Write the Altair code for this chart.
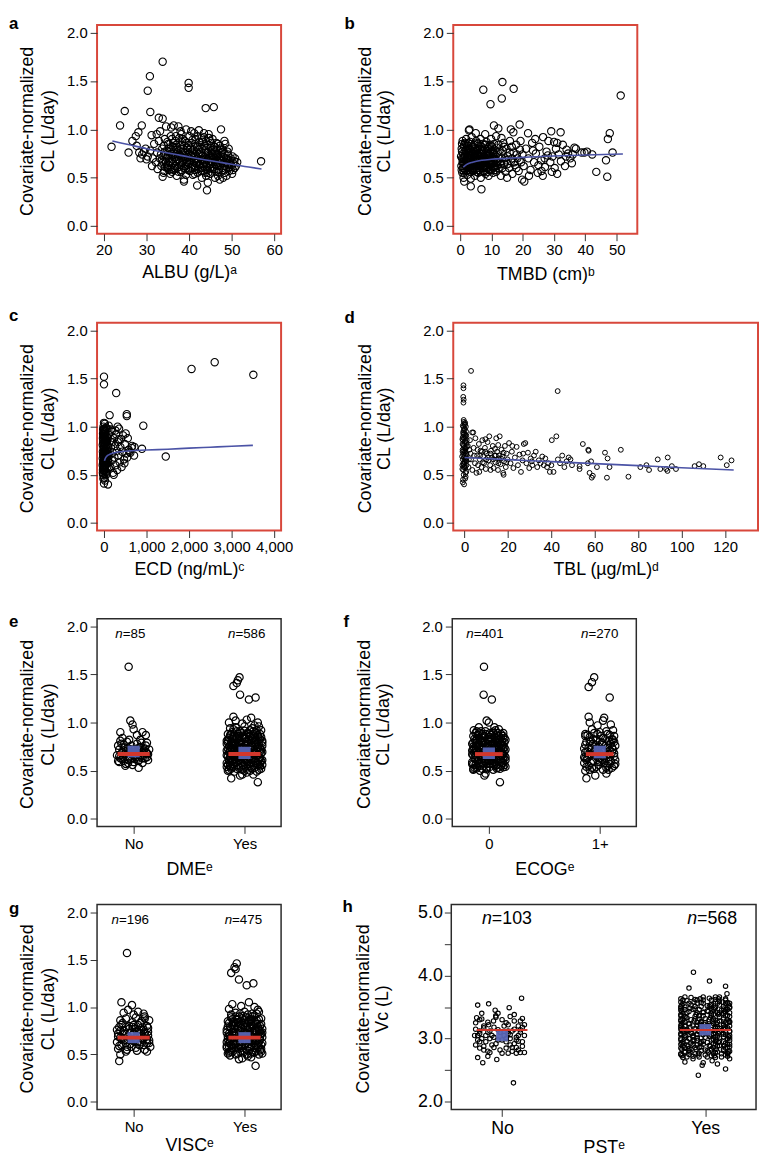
import altair as alt
import pandas as pd

FONT = "Liberation Sans"
RED_FRAME = "#D8473B"
BLACK_FRAME = "#2b2b2b"
TICK = "#333333"
FIT_BLUE = "#4B53A6"
BOX_BLUE = "#5865B4"
MED_RED = "#D2372C"

CL_DOMAIN = [-0.08, 2.08]
CL_TICKS = [0.0, 0.5, 1.0, 1.5, 2.0]
VC_DOMAIN = [1.88, 5.12]
VC_TICKS = [2.0, 2.5, 3.0, 3.5, 4.0, 4.5, 5.0]

PANEL_LETTERS = ["a", "b", "c", "d", "e", "f", "g", "h"]
Y_TITLE_CL = ["Covariate-normalized", "CL (L/day)"]
Y_TITLE_VC = ["Covariate-normalized", "Vᴄ (L)"]
X_TITLES = ["ALBU (g/L)ᵃ", "TMBD (cm)ᵇ", "ECD (ng/mL)ᶜ", "TBL (µg/mL)ᵈ",
            "DMEᵉ", "ECOGᵉ", "VISCᵉ", "PSTᵉ"]

# ---------------- panel a : ALBU ----------------
ALBU_PTS = [
    (21.8, 0.82), (23.8, 1.04), (24.9, 1.19), (25.8, 0.76), (26.7, 0.88), (27.5, 0.93), (28.1, 0.97),
    (28.9, 1.04), (27.7, 0.83), (28.3, 0.76), (29.0, 0.74), (29.8, 0.80), (30.3, 1.40), (30.8, 1.55),
    (30.9, 1.18), (33.8, 1.70), (32.9, 1.12), (33.8, 1.11), (39.9, 1.48), (39.9, 1.43), (43.9, 1.22),
    (45.8, 1.23), (47.5, 1.00), (56.9, 0.67), (41.9, 0.42), (44.2, 0.37), (44.4, 0.45), (33.8, 0.51),
    (38.8, 0.46), (38.8, 0.48), (28.6, 0.70), (29.4, 0.77), (30.0, 0.69),
    (31.2, 0.94), (32.4, 0.95), (33.2, 0.98), (34.6, 1.03), (35.8, 1.02), (36.4, 1.04), (37.5, 1.03),
    (38.2, 0.95), (39.3, 1.00), (40.5, 0.98), (41.2, 0.96), (42.3, 0.99), (43.5, 0.96), (44.6, 0.95),
    (45.5, 0.90), (46.4, 0.86), (47.2, 0.83), (48.3, 0.88), (48.5, 0.85), (49.3, 0.80), (50.2, 0.72),
    (50.8, 0.70), (51.3, 0.66),
    (30.3, 0.72), (30.9, 0.78), (31.5, 0.70), (31.3, 0.62), (31.8, 0.85), (32.2, 0.66), (32.5, 0.76),
    (32.6, 0.59), (32.9, 0.88), (33.1, 0.70),
    (33.5, 0.62), (33.7, 0.80), (34.0, 0.72), (34.2, 0.57), (34.3, 0.90), (34.6, 0.66), (34.8, 0.78),
    (35.0, 0.60), (35.1, 0.85), (35.3, 0.70), (35.6, 0.54), (35.7, 0.93), (35.9, 0.75), (36.1, 0.64),
    (36.2, 0.82), (36.4, 0.58), (36.6, 0.71), (36.8, 0.88), (37.0, 0.67), (37.1, 0.52), (37.3, 0.79),
    (37.5, 0.61), (37.7, 0.91), (37.9, 0.73), (38.1, 0.56), (38.2, 0.84), (38.4, 0.66), (38.6, 0.77),
    (38.8, 0.60), (39.0, 0.88), (39.1, 0.70), (39.3, 0.53), (39.5, 0.81), (39.7, 0.63), (39.9, 0.75),
    (40.1, 0.93), (40.2, 0.57), (40.4, 0.68), (40.6, 0.86), (40.8, 0.61), (41.0, 0.79), (41.1, 0.72),
    (41.3, 0.54), (41.5, 0.90), (41.7, 0.65), (41.9, 0.82), (42.1, 0.59), (42.2, 0.74), (42.4, 0.87),
    (42.6, 0.63), (42.8, 0.69), (43.0, 0.50), (43.1, 0.80), (43.3, 0.57), (43.5, 0.92), (43.7, 0.66),
    (43.9, 0.76), (44.1, 0.61), (44.3, 0.84), (44.5, 0.55), (44.7, 0.71), (44.9, 0.88), (45.1, 0.64),
    (45.3, 0.78), (45.5, 0.59), (45.7, 0.69), (45.9, 0.82), (46.1, 0.50), (46.3, 0.74), (46.5, 0.62),
    (46.7, 0.79), (46.9, 0.56), (47.0, 0.70), (47.2, 0.48), (47.4, 0.65), (47.6, 0.76), (47.8, 0.60),
    (48.0, 0.50), (48.2, 0.71), (48.4, 0.55), (48.6, 0.66), (48.9, 0.61), (49.1, 0.74), (49.4, 0.57),
    (49.6, 0.68), (49.9, 0.63), (50.1, 0.54), (50.4, 0.65), (50.7, 0.60), (51.0, 0.62),
    (34.5, 0.74), (35.4, 0.66), (36.9, 0.74), (37.6, 0.69), (38.5, 0.71), (39.6, 0.68), (40.7, 0.72),
    (41.6, 0.69), (42.7, 0.77), (43.6, 0.71), (44.6, 0.67), (45.6, 0.73), (46.6, 0.68), (47.5, 0.72),
    (36.3, 0.86), (38.9, 0.83), (41.4, 0.85), (43.2, 0.87), (45.0, 0.81), (37.2, 0.60), (39.8, 0.58),
    (42.0, 0.55), (44.0, 0.52), (46.0, 0.59),
    (33.4, 0.74), (33.9, 0.66), (34.1, 0.83), (34.4, 0.61), (34.7, 0.70), (34.9, 0.87), (35.2, 0.63),
    (35.5, 0.77), (35.8, 0.59), (36.0, 0.69), (36.5, 0.79), (36.7, 0.62), (37.0, 0.84), (37.4, 0.72),
    (37.8, 0.65), (38.0, 0.80), (38.3, 0.58), (38.7, 0.68), (39.0, 0.76), (39.2, 0.62), (39.4, 0.86),
    (39.8, 0.71), (40.0, 0.64), (40.3, 0.80), (40.5, 0.60), (40.9, 0.75), (41.2, 0.67), (41.4, 0.58),
    (41.8, 0.77), (42.0, 0.70), (42.3, 0.64), (42.5, 0.82), (42.9, 0.60), (43.2, 0.73), (43.4, 0.65),
    (43.8, 0.79), (44.0, 0.70), (44.2, 0.58), (44.4, 0.76), (44.8, 0.63), (45.0, 0.72), (45.2, 0.86),
    (45.4, 0.66), (45.8, 0.61), (46.0, 0.77), (46.2, 0.70), (46.4, 0.56), (46.8, 0.73), (47.1, 0.62),
    (47.3, 0.80), (47.7, 0.67), (48.1, 0.58), (48.3, 0.75), (48.7, 0.70), (49.0, 0.65), (49.3, 0.60),
    (49.8, 0.70), (50.3, 0.58), (50.6, 0.67), (35.0, 0.72), (36.0, 0.56), (37.2, 0.76), (38.3, 0.74),
    (39.4, 0.66), (40.4, 0.73), (41.3, 0.62), (42.2, 0.68), (43.3, 0.62), (44.3, 0.69), (45.4, 0.75),
    (46.3, 0.64), (47.3, 0.69), (48.4, 0.62), (36.9, 0.93), (38.5, 0.90), (40.8, 0.89), (42.9, 0.91),
    (44.7, 0.91), (46.8, 0.85), (34.0, 0.55), (45.0, 0.54), (48.8, 0.52),
]
ALBU_CORE = [
    (33.6, 0.68), (34.3, 0.77), (34.8, 0.62), (35.3, 0.81), (35.7, 0.67), (36.2, 0.73), (36.6, 0.60),
    (37.1, 0.82), (37.6, 0.74), (38.0, 0.63), (38.4, 0.87), (38.9, 0.72), (39.3, 0.59), (39.7, 0.79),
    (40.1, 0.67), (40.6, 0.77), (41.0, 0.63), (41.5, 0.74), (41.9, 0.66), (42.4, 0.79), (42.8, 0.57),
    (43.1, 0.68), (43.6, 0.83), (44.0, 0.64), (44.5, 0.74), (44.9, 0.60), (45.3, 0.70), (45.7, 0.79),
    (46.2, 0.66), (46.6, 0.74), (47.0, 0.58), (47.5, 0.68), (47.9, 0.77), (48.3, 0.65), (48.9, 0.69),
    (49.5, 0.64), (50.0, 0.61), (36.0, 0.90), (38.0, 0.98), (40.0, 0.84), (42.0, 0.93), (44.0, 0.88),
    (46.0, 0.82), (48.0, 0.79), (37.5, 0.56), (40.9, 0.53), (43.8, 0.55), (46.8, 0.52), (35.2, 0.58),
    (49.0, 0.77),
]
ALBU_FIT_X = [22, 26, 30, 35, 40, 45, 50, 54, 57]
ALBU_FIT_Y = [0.88, 0.84, 0.80, 0.755, 0.715, 0.675, 0.64, 0.61, 0.59]

# ---------------- panel b : TMBD ----------------
TMBD_PTS = [
    (7.4, 1.41), (9.7, 1.26), (13.5, 1.49), (13.3, 1.32), (17.1, 1.42), (51.3, 1.35), (47.8, 0.96),
    (47.2, 0.90), (48.7, 0.76), (46.6, 0.68), (47.0, 0.51), (43.5, 0.56), (42.2, 0.74), (39.7, 0.76),
    (38.8, 0.76), (40.5, 0.77), (36.5, 0.81), (37.0, 0.80), (35.7, 0.65), (34.5, 0.75), (33.8, 0.72),
    (32.1, 0.97), (29.1, 0.98), (29.3, 0.56), (31.0, 0.54), (31.0, 0.86), (19.0, 1.05), (10.8, 1.04),
    (12.2, 1.01), (3.0, 1.00), (2.8, 0.99), (6.8, 0.38), (3.4, 0.41), (1.3, 0.46), (19.8, 0.48),
    (20.5, 0.46), (26.4, 0.52), (16.2, 1.00), (21.7, 0.96), (8.0, 0.95), (5.0, 0.96), (11.5, 0.93),
    (17.0, 0.97),
    (20.3, 0.62), (21.0, 0.80), (21.8, 0.70), (22.5, 0.58), (23.0, 0.86), (23.6, 0.66), (24.2, 0.75),
    (24.8, 0.55), (25.3, 0.82), (25.9, 0.68), (26.5, 0.92), (27.1, 0.61), (27.6, 0.77), (28.2, 0.88),
    (28.8, 0.66), (29.5, 0.72), (30.2, 0.60), (30.6, 0.80), (31.5, 0.74), (32.2, 0.67), (32.8, 0.84),
    (33.5, 0.62), (34.0, 0.79), (35.2, 0.70), (36.0, 0.74), (22.0, 0.52), (24.0, 0.90), (26.0, 0.57),
    (28.0, 0.73), (30.0, 0.87), (27.0, 0.70), (25.0, 0.63), (23.3, 0.78),
    (12.3, 0.60), (12.6, 0.78), (13.0, 0.52), (13.4, 0.70), (13.8, 0.86), (14.1, 0.64), (14.5, 0.56),
    (14.8, 0.80), (15.2, 0.72), (15.6, 0.60), (15.9, 0.88), (16.3, 0.67), (16.7, 0.54), (17.1, 0.76),
    (17.5, 0.63), (17.9, 0.84), (18.3, 0.70), (18.7, 0.57), (19.1, 0.79), (19.5, 0.66), (19.9, 0.74),
    (13.2, 0.91), (15.0, 0.50), (16.5, 0.82), (18.0, 0.60), (19.3, 0.88),
    (0.4, 0.62), (0.5, 0.80), (0.6, 0.70), (0.7, 0.55), (0.8, 0.88), (0.9, 0.66), (1.0, 0.75),
    (1.1, 0.50), (1.2, 0.60), (1.3, 0.84), (1.5, 0.72), (1.6, 0.58), (1.8, 0.68), (1.9, 0.90),
    (2.0, 0.78), (2.2, 0.63), (2.3, 0.53), (2.5, 0.74), (2.6, 0.86), (2.8, 0.66), (2.9, 0.58),
    (3.1, 0.80), (3.3, 0.70), (3.4, 0.49), (3.6, 0.62), (3.7, 0.92), (3.9, 0.76), (4.1, 0.57),
    (4.2, 0.68), (4.4, 0.84), (4.6, 0.64), (4.7, 0.52), (4.9, 0.73), (5.1, 0.88), (5.3, 0.60),
    (5.4, 0.79), (5.6, 0.67), (5.8, 0.55), (5.9, 0.83), (6.1, 0.71), (6.3, 0.62), (6.5, 0.90),
    (6.6, 0.50), (6.8, 0.76), (7.0, 0.65), (7.2, 0.85), (7.3, 0.57), (7.5, 0.72), (7.7, 0.62),
    (7.9, 0.80), (8.1, 0.54), (8.2, 0.69), (8.4, 0.87), (8.6, 0.60), (8.8, 0.75), (9.0, 0.66),
    (9.1, 0.52), (9.3, 0.82), (9.5, 0.71), (9.7, 0.58), (9.9, 0.90), (10.1, 0.64), (10.3, 0.77),
    (10.5, 0.55), (10.7, 0.70), (10.9, 0.85), (11.1, 0.61), (11.3, 0.73), (11.5, 0.56), (11.7, 0.81),
    (11.9, 0.67),
    (1.4, 0.65), (2.1, 0.70), (2.7, 0.61), (3.2, 0.74), (3.8, 0.66), (4.5, 0.71), (5.2, 0.64),
    (5.7, 0.74), (6.4, 0.68), (7.1, 0.69), (7.8, 0.72), (8.5, 0.65), (9.2, 0.73), (10.0, 0.70),
    (10.8, 0.62), (0.3, 0.72), (1.7, 0.78), (4.0, 0.60), (6.0, 0.58), (8.9, 0.78),
    (0.5, 0.58), (0.6, 0.85), (0.8, 0.66), (1.0, 0.70), (1.2, 0.82), (1.3, 0.55), (1.6, 0.74),
    (1.8, 0.62), (2.0, 0.85), (2.2, 0.67), (2.4, 0.58), (2.6, 0.77), (2.9, 0.70), (3.0, 0.62),
    (3.2, 0.87), (3.4, 0.66), (3.6, 0.72), (3.9, 0.58), (4.0, 0.82), (4.3, 0.74), (4.5, 0.60),
    (4.8, 0.68), (5.0, 0.78), (5.2, 0.56), (5.5, 0.70), (5.7, 0.85), (6.0, 0.64), (6.2, 0.76),
    (6.4, 0.56), (6.7, 0.72), (6.9, 0.82), (7.1, 0.60), (7.4, 0.68), (7.6, 0.78), (7.9, 0.66),
    (8.1, 0.84), (8.3, 0.60), (8.6, 0.72), (8.8, 0.56), (9.0, 0.80), (9.3, 0.64), (9.5, 0.76),
    (9.8, 0.68), (10.0, 0.58), (10.2, 0.82), (10.5, 0.66), (10.7, 0.76), (11.0, 0.70), (11.2, 0.58),
    (11.6, 0.66), (12.0, 0.76), (12.5, 0.70), (13.0, 0.64), (13.6, 0.78), (14.3, 0.70), (15.1, 0.64),
    (15.8, 0.76), (16.6, 0.70), (17.3, 0.66), (18.1, 0.74), (19.0, 0.68), (1.1, 0.64), (2.4, 0.80),
    (3.5, 0.78), (4.7, 0.80), (5.9, 0.66), (7.0, 0.74), (8.0, 0.62), (9.4, 0.70), (10.6, 0.74),
]
TMBD_CORE = [
    (0.6, 0.77), (0.9, 0.60), (1.2, 0.71), (1.5, 0.86), (1.7, 0.64), (2.1, 0.57), (2.3, 0.72),
    (2.5, 0.83), (2.8, 0.62), (3.0, 0.76), (3.3, 0.56), (3.5, 0.68), (3.8, 0.82), (4.1, 0.65),
    (4.3, 0.78), (4.6, 0.58), (4.9, 0.70), (5.1, 0.62), (5.4, 0.75), (5.6, 0.86), (5.9, 0.60),
    (6.2, 0.70), (6.5, 0.80), (6.7, 0.63), (7.0, 0.78), (7.3, 0.66), (7.6, 0.56), (7.8, 0.84),
    (8.1, 0.70), (8.4, 0.62), (8.7, 0.80), (9.0, 0.72), (9.3, 0.58), (9.6, 0.84), (9.9, 0.65),
    (10.3, 0.70), (10.6, 0.60), (11.0, 0.79), (11.4, 0.68), (11.8, 0.62), (12.2, 0.84), (12.8, 0.66),
    (13.5, 0.60), (14.0, 0.82), (14.7, 0.68),
]
TMBD_FIT_X = [1, 2, 4, 7, 10, 15, 20, 30, 40, 52]
TMBD_FIT_Y = [0.61, 0.635, 0.66, 0.68, 0.69, 0.70, 0.71, 0.725, 0.735, 0.745]

# ---------------- panel c : ECD ----------------
ECD_PTS = [
    (2058, 1.60), (2602, 1.67), (3511, 1.54), (1452, 0.69), (924, 1.01), (893, 0.77), (707, 0.70),
    (715, 0.79), (0, 1.52), (0, 1.44), (287, 1.35), (132, 1.12), (536, 1.13), (536, 1.11), (0, 0.41),
    (93, 0.40),
    (-20, 0.50), (-10, 0.56), (0, 0.62), (10, 0.68), (-25, 0.74), (5, 0.80), (-15, 0.86), (15, 0.92),
    (-5, 0.98), (20, 1.03), (-30, 0.60), (25, 0.55), (-8, 0.70), (30, 0.76), (-18, 0.83), (8, 0.89),
    (35, 0.95), (-12, 1.00), (40, 0.65), (-3, 0.58), (45, 0.72), (12, 0.78), (-22, 0.93), (50, 0.85),
    (2, 0.47), (55, 0.62), (-28, 0.67), (60, 0.90), (18, 0.73), (65, 0.52), (-6, 0.84), (70, 0.69),
    (28, 0.96), (75, 0.58), (-16, 0.64), (80, 0.81), (38, 0.53), (85, 0.75), (0, 1.04), (90, 0.88),
    (48, 0.60), (95, 0.66), (22, 0.44), (100, 0.79), (58, 0.71), (105, 0.92), (-10, 0.77), (110, 0.57),
    (68, 0.84), (-24, 0.55), (32, 0.64), (78, 0.98), (-4, 0.91), (42, 0.87), (88, 0.70), (14, 0.60),
    (52, 0.50), (-20, 0.97), (62, 0.77), (98, 0.63), (6, 0.72), (-14, 0.69), (26, 0.82), (72, 0.62),
    (3, 0.96), (46, 0.99),
    (-26, 0.52), (-12, 0.58), (4, 0.54), (16, 0.66), (-20, 0.71), (8, 0.75), (-6, 0.79), (22, 0.85),
    (-16, 0.90), (4, 0.94), (-28, 0.81), (36, 0.70), (-2, 0.65), (12, 0.87), (-22, 0.62), (28, 0.59),
    (18, 0.98), (-8, 0.94), (44, 0.79), (54, 0.67), (64, 0.86), (74, 0.74), (84, 0.64), (94, 0.71),
    (-14, 0.46), (10, 0.51), (34, 0.89), (-24, 0.88), (0, 0.75), (20, 0.69),
    (125, 0.70), (140, 0.85), (150, 0.58), (165, 0.78), (180, 0.95), (190, 0.65), (205, 0.73),
    (215, 0.52), (230, 0.88), (245, 0.68), (260, 0.80), (270, 0.60), (285, 0.92), (300, 0.75),
    (310, 0.55), (325, 0.84), (340, 0.70), (355, 0.98), (370, 0.63), (385, 0.79), (400, 0.87),
    (415, 0.58), (430, 0.74), (450, 0.91), (470, 0.66), (490, 0.82), (510, 0.93), (530, 0.72),
    (545, 0.68), (560, 0.88), (580, 0.76), (600, 0.74), (230, 0.50), (160, 0.97), (320, 1.00),
    (110, 1.01), (270, 0.96), (480, 0.62), (620, 0.73), (650, 0.78), (660, 0.80), (200, 0.84),
    (350, 0.87),
]
ECD_FIT_X = [10, 30, 60, 120, 250, 500, 1000, 1500, 2000, 2500, 3000, 3500]
ECD_FIT_Y = [0.645, 0.67, 0.69, 0.71, 0.73, 0.745, 0.757, 0.766, 0.777, 0.787, 0.797, 0.806]

# ---------------- panel d : TBL ----------------
TBL_PTS = [
    (-0.8, 0.42), (0.3, 0.46), (-0.4, 0.50), (0.8, 0.53), (-1.0, 0.56), (0.1, 0.59), (-0.6, 0.62),
    (0.6, 0.65), (-0.2, 0.68), (1.0, 0.71), (-0.9, 0.74), (0.4, 0.77), (-0.3, 0.80), (0.9, 0.83),
    (-0.7, 0.86), (0.2, 0.89), (-0.5, 0.92), (0.7, 0.95), (-0.1, 0.98), (-0.8, 1.01), (0.3, 1.04),
    (-0.4, 1.07), (0.5, 0.48), (-0.6, 0.55), (0.0, 0.63), (-1.1, 0.69), (0.6, 0.72), (-0.2, 0.75),
    (1.1, 0.79), (-0.9, 0.82), (0.4, 0.85), (-0.3, 0.88), (0.8, 0.91), (-0.7, 0.94), (0.1, 0.97),
    (-0.5, 1.00), (0.9, 0.60), (-0.8, 0.66), (0.2, 0.70), (-0.1, 0.73), (0.6, 0.78), (-0.6, 0.81),
    (0.0, 0.84), (-1.0, 0.87), (0.5, 0.90), (-0.2, 0.93), (0.3, 0.57), (-0.4, 0.61), (0.7, 0.67),
    (-0.9, 0.76), (-0.5, 1.43), (-0.5, 1.40), (-0.6, 1.31), (-0.4, 1.28), (-0.5, 1.25), (-0.3, 1.05),
    (0.2, 1.02), (-0.2, 0.40),
    (-0.7, 0.45), (0.4, 0.52), (-0.3, 0.58), (0.8, 0.64), (-1.0, 0.60), (0.1, 0.66), (-0.6, 0.71),
    (0.5, 0.74), (-0.2, 0.78), (1.0, 0.86), (-0.8, 0.89), (0.3, 0.92), (-0.4, 0.96), (0.6, 1.00),
    (-0.1, 1.03),
    (3.0, 1.58), (3.5, 0.94), (4.0, 0.94), (1.5, 0.80), (2.0, 0.66), (2.5, 0.86), (1.8, 0.58),
    (2.8, 0.72), (3.6, 0.55), (4.2, 0.78), (4.8, 0.62), (5.0, 0.88), (5.5, 0.52),
    (5.8, 0.70), (6.2, 0.60), (6.6, 0.82), (7.0, 0.66), (7.4, 0.75), (7.8, 0.58), (8.2, 0.86),
    (8.6, 0.69), (9.0, 0.62), (9.4, 0.78), (9.8, 0.56), (10.2, 0.72), (10.6, 0.84), (11.0, 0.65),
    (11.4, 0.90), (11.8, 0.60), (12.2, 0.75), (12.6, 0.68), (13.0, 0.80), (13.4, 0.57), (13.8, 0.70),
    (14.2, 0.63), (14.6, 0.88), (15.0, 0.74), (15.4, 0.55), (15.8, 0.67), (16.2, 0.90), (16.6, 0.61),
    (17.0, 0.76), (17.4, 0.69), (17.8, 0.52), (18.2, 0.64), (18.6, 0.80), (19.0, 0.58), (19.4, 0.72),
    (19.8, 0.66), (8.0, 0.74), (12.0, 0.55), (15.5, 0.81), (10.0, 0.66), (6.8, 0.53), (14.0, 0.77),
    (18.0, 0.50), (16.0, 0.70), (9.6, 0.87),
    (6.0, 0.76), (7.2, 0.70), (8.4, 0.63), (9.6, 0.74), (10.8, 0.68), (12.0, 0.72), (13.2, 0.66),
    (14.4, 0.70), (15.6, 0.62), (16.8, 0.67), (18.0, 0.73), (19.2, 0.63), (3.0, 0.66), (4.4, 0.70),
    (2.2, 0.76),
    (20.5, 0.83), (21.2, 0.62), (21.8, 0.74), (22.5, 0.57), (23.2, 0.68), (24.0, 0.79), (24.6, 0.60),
    (25.3, 0.71), (26.0, 0.53), (26.7, 0.65), (27.3, 0.82), (28.0, 0.83), (28.5, 0.62), (29.2, 0.73),
    (29.8, 0.57), (30.5, 0.67), (31.2, 0.60), (32.0, 0.70), (32.8, 0.74), (33.5, 0.58), (34.2, 0.65),
    (35.0, 0.62), (35.8, 0.69), (36.5, 0.60), (37.2, 0.67), (38.0, 0.58), (38.6, 0.62), (39.3, 0.53),
    (40.0, 0.60), (31.0, 0.64), (22.0, 0.80), (27.0, 0.72),
    (40.2, 0.86), (42.3, 0.90), (42.9, 1.37), (41.0, 0.53), (43.0, 0.66), (44.0, 0.62), (45.0, 0.70),
    (46.0, 0.58), (47.0, 0.64), (48.0, 0.68), (48.8, 0.66), (49.5, 0.60), (53.0, 0.56), (53.0, 0.59),
    (54.5, 0.82), (56.8, 0.62), (57.0, 0.76), (57.2, 0.75), (58.3, 0.64), (57.6, 0.52), (58.6, 0.47),
    (59.1, 0.49), (61.0, 0.58),
    (64.7, 0.73), (65.9, 0.67), (66.8, 0.58), (65.6, 0.47), (72.0, 0.76), (75.5, 0.48), (81.0, 0.58),
    (83.8, 0.60), (85.0, 0.55), (89.0, 0.66), (90.2, 0.56), (92.9, 0.56), (93.5, 0.54), (93.6, 0.68),
    (95.5, 0.59), (97.4, 0.56), (106.0, 0.59), (108.0, 0.61), (110.0, 0.59), (118.0, 0.68),
    (120.8, 0.60), (123.0, 0.65),
]
TBL_FIT_X = [0, 20, 40, 60, 80, 100, 124]
TBL_FIT_Y = [0.68, 0.658, 0.637, 0.616, 0.595, 0.574, 0.55]

# ---------------- panel e : DME (jitter offset, CL) ----------------
DME_CATS = ["No", "Yes"]
DME_N = [85, 586]
DME_NO = [
    (-0.045, 1.58), (-0.03, 1.02), (-0.01, 0.98), (-0.12, 0.90), (-0.04, 0.82), (0.03, 0.87), (0.08, 0.90),
    (0.11, 0.87), (0.12, 0.79), (0.045, 0.53), (-0.075, 0.55), (-0.14, 0.60), (-0.10, 0.84), (0.00, 0.93),
    (0.06, 0.82),
    (-0.15, 0.66), (-0.13, 0.72), (-0.12, 0.63), (-0.11, 0.78), (-0.10, 0.69), (-0.09, 0.60), (-0.08, 0.74),
    (-0.07, 0.65), (-0.06, 0.80), (-0.05, 0.58), (-0.04, 0.70), (-0.03, 0.62), (-0.02, 0.76), (-0.01, 0.67),
    (0.00, 0.59), (0.01, 0.72), (0.02, 0.64), (0.03, 0.78), (0.04, 0.68), (0.05, 0.61), (0.06, 0.74),
    (0.07, 0.66), (0.08, 0.58), (0.09, 0.71), (0.10, 0.63), (0.11, 0.76), (0.12, 0.68), (0.13, 0.61),
    (0.14, 0.72), (-0.14, 0.76), (-0.13, 0.59), (-0.11, 0.68), (-0.09, 0.71), (-0.07, 0.57), (-0.05, 0.73),
    (-0.03, 0.69), (-0.01, 0.56), (0.02, 0.70), (0.04, 0.60), (0.06, 0.66), (0.08, 0.69), (0.10, 0.73),
    (0.12, 0.64), (-0.08, 0.67), (0.00, 0.66), (0.07, 0.79), (-0.12, 0.81),
    (-0.13, 0.65), (-0.10, 0.62), (-0.07, 0.70), (-0.04, 0.64), (-0.02, 0.72), (0.01, 0.62), (0.03, 0.69),
    (0.05, 0.74), (0.08, 0.63), (0.11, 0.70), (0.13, 0.67), (-0.09, 0.77), (-0.05, 0.61), (0.02, 0.66),
    (0.06, 0.70),
]
DME_YES = [
    (-0.10, 1.38), (-0.07, 1.41), (-0.045, 1.47), (-0.06, 1.44), (-0.04, 1.29), (0.04, 1.24), (0.10, 1.26),
    (-0.10, 1.06), (0.06, 1.05), (-0.12, 0.42), (0.12, 0.38), (-0.04, 0.45), (-0.02, 0.46), (0.08, 0.46),
    (-0.14, 1.00), (0.02, 1.03), (0.12, 1.00), (-0.08, 1.02),
    (-0.15, 0.50), (-0.09, 0.49), (-0.02, 0.51), (0.05, 0.50), (0.11, 0.49), (0.15, 0.52),
    (-0.13, 0.55), (-0.06, 0.56), (0.01, 0.54), (0.08, 0.55), (0.14, 0.57), (-0.16, 0.58),
    (-0.11, 0.60), (-0.04, 0.61), (0.03, 0.59), (0.10, 0.60), (-0.14, 0.62), (0.16, 0.61),
    (-0.15, 0.65), (-0.08, 0.64), (-0.01, 0.66), (0.06, 0.65), (0.13, 0.64), (-0.12, 0.67),
    (-0.10, 0.70), (-0.03, 0.71), (0.04, 0.69), (0.11, 0.70), (-0.16, 0.71), (0.15, 0.72),
    (-0.14, 0.75), (-0.07, 0.74), (0.00, 0.76), (0.07, 0.75), (0.14, 0.74), (-0.11, 0.77),
    (-0.12, 0.80), (-0.05, 0.79), (0.02, 0.81), (0.09, 0.80), (0.16, 0.79), (-0.15, 0.82),
    (-0.09, 0.85), (-0.02, 0.84), (0.05, 0.86), (0.12, 0.85), (-0.13, 0.87),
    (-0.11, 0.90), (-0.04, 0.91), (0.03, 0.89), (0.10, 0.90), (0.15, 0.92),
    (-0.08, 0.95), (0.00, 0.96), (0.07, 0.94), (-0.13, 0.94), (0.13, 0.96),
    (-0.12, 0.52), (-0.05, 0.53), (0.02, 0.48), (0.09, 0.53), (-0.16, 0.54),
    (-0.10, 0.57), (-0.03, 0.58), (0.04, 0.57), (0.11, 0.58), (0.16, 0.56),
    (-0.08, 0.62), (-0.01, 0.63), (0.06, 0.62), (0.13, 0.61), (-0.13, 0.63),
    (-0.06, 0.67), (0.01, 0.68), (0.08, 0.67), (0.15, 0.68), (-0.14, 0.69),
    (-0.09, 0.72), (-0.02, 0.73), (0.05, 0.72), (0.12, 0.73), (-0.12, 0.74),
    (-0.04, 0.77), (0.03, 0.78), (0.10, 0.77), (-0.16, 0.78), (0.16, 0.76),
    (-0.07, 0.82), (0.00, 0.83), (0.07, 0.82), (0.14, 0.83), (-0.10, 0.83),
    (-0.15, 0.88), (-0.06, 0.88), (0.01, 0.87), (0.08, 0.88), (0.14, 0.88),
    (-0.10, 0.93), (0.05, 0.92), (-0.02, 0.99), (0.09, 0.97),
    (-0.14, 0.51), (-0.07, 0.52), (0.00, 0.50), (0.07, 0.52), (0.13, 0.51),
    (-0.15, 0.56), (-0.08, 0.58), (-0.01, 0.56), (0.06, 0.58), (0.12, 0.56),
    (-0.12, 0.62), (-0.05, 0.60), (0.02, 0.62), (0.09, 0.63), (0.15, 0.60),
    (-0.16, 0.66), (-0.10, 0.66), (-0.03, 0.64), (0.04, 0.66), (0.11, 0.66),
    (-0.13, 0.70), (-0.06, 0.70), (0.01, 0.71), (0.08, 0.70), (0.14, 0.70),
    (-0.15, 0.73), (-0.08, 0.76), (-0.01, 0.74), (0.06, 0.76), (0.13, 0.77),
    (-0.11, 0.79), (-0.04, 0.81), (0.03, 0.80), (0.10, 0.82), (0.16, 0.81),
    (-0.14, 0.84), (-0.07, 0.85), (0.00, 0.85), (0.07, 0.84), (0.12, 0.87),
    (-0.12, 0.88), (-0.03, 0.89), (0.04, 0.88), (0.11, 0.92), (-0.07, 0.91),
    (-0.13, 0.58), (-0.09, 0.62), (0.05, 0.55), (0.14, 0.63), (-0.02, 0.68),
    (0.09, 0.68), (-0.11, 0.72), (0.03, 0.73), (-0.05, 0.75), (0.12, 0.75),
    (-0.09, 0.79), (0.06, 0.79), (-0.16, 0.81), (0.01, 0.83), (0.15, 0.85),
    (-0.05, 0.86), (0.08, 0.91), (-0.10, 0.54), (0.02, 0.60), (-0.06, 0.65),
]
DME_YES_CORE = [
    (-0.12, 0.535), (-0.03, 0.545), (0.06, 0.535), (0.14, 0.545), (-0.09, 0.595), (0.00, 0.585),
    (0.10, 0.595), (-0.14, 0.605), (-0.05, 0.645), (0.04, 0.635), (0.12, 0.655), (-0.11, 0.685),
    (-0.02, 0.695), (0.07, 0.685), (0.16, 0.695), (-0.13, 0.725), (-0.04, 0.735), (0.05, 0.745),
    (0.14, 0.725), (-0.08, 0.785), (0.01, 0.775), (0.10, 0.795), (-0.15, 0.795), (-0.05, 0.835),
    (0.04, 0.825), (0.13, 0.815), (-0.10, 0.865), (-0.01, 0.865), (0.09, 0.855), (0.00, 0.915),
]
DME_MEDIAN = [0.672, 0.672]
DME_BOX = [(0.638, 0.759), (0.621, 0.748)]

# ---------------- panel f : ECOG ----------------
ECOG_CATS = ["0", "1+"]
ECOG_N = [401, 270]
ECOG_0 = [
    (-0.044, 1.58), (-0.047, 1.29), (0.027, 1.24), (-0.136, 0.92), (-0.02, 1.02), (0.10, 0.38),
    (-0.04, 0.45), (-0.03, 0.47), (-0.14, 0.51), (0.05, 0.95), (0.00, 1.00), (0.09, 0.93), (-0.09, 0.95),
    (-0.14, 0.52), (-0.08, 0.50), (-0.02, 0.53), (0.04, 0.51), (0.10, 0.52), (0.15, 0.54),
    (-0.12, 0.56), (-0.05, 0.55), (0.01, 0.57), (0.07, 0.56), (0.13, 0.58), (-0.15, 0.59),
    (-0.10, 0.60), (-0.03, 0.61), (0.03, 0.60), (0.09, 0.62), (0.15, 0.61), (-0.13, 0.63),
    (-0.07, 0.64), (0.00, 0.65), (0.06, 0.64), (0.12, 0.66), (-0.15, 0.67), (-0.09, 0.68),
    (-0.02, 0.69), (0.04, 0.68), (0.10, 0.70), (-0.12, 0.71), (-0.05, 0.72), (0.02, 0.73),
    (0.08, 0.72), (0.14, 0.74), (-0.14, 0.75), (-0.08, 0.76), (-0.01, 0.77), (0.05, 0.76),
    (0.11, 0.78), (-0.11, 0.79), (-0.04, 0.80), (0.03, 0.81), (0.09, 0.80), (0.15, 0.82),
    (-0.13, 0.83), (-0.06, 0.84), (0.01, 0.85), (0.07, 0.84), (0.13, 0.86), (-0.10, 0.87),
    (-0.03, 0.88), (0.04, 0.89), (0.11, 0.88), (-0.07, 0.91), (0.06, 0.92), (-0.12, 0.89),
    (-0.11, 0.54), (0.06, 0.55), (-0.06, 0.58), (0.11, 0.59), (-0.01, 0.62), (0.13, 0.63),
    (-0.12, 0.66), (0.07, 0.67), (-0.05, 0.69), (0.14, 0.70), (-0.09, 0.73), (0.05, 0.74),
    (-0.02, 0.75), (0.12, 0.76), (-0.14, 0.79), (0.08, 0.78), (-0.08, 0.82), (0.02, 0.83),
    (0.14, 0.84), (-0.04, 0.86), (0.09, 0.86), (-0.15, 0.71), (0.00, 0.70), (0.10, 0.65),
    (-0.06, 0.66), (0.03, 0.58),
    (-0.13, 0.53), (-0.06, 0.52), (0.01, 0.54), (0.08, 0.53), (0.14, 0.56),
    (-0.15, 0.57), (-0.09, 0.58), (-0.02, 0.57), (0.05, 0.59), (0.12, 0.58),
    (-0.12, 0.62), (-0.05, 0.63), (0.02, 0.62), (0.08, 0.65), (0.15, 0.64),
    (-0.14, 0.66), (-0.08, 0.66), (-0.01, 0.67), (0.05, 0.67), (0.12, 0.69),
    (-0.11, 0.70), (-0.04, 0.70), (0.03, 0.71), (0.09, 0.70), (0.15, 0.72),
    (-0.13, 0.73), (-0.06, 0.74), (0.00, 0.74), (0.07, 0.75), (0.13, 0.73),
    (-0.10, 0.77), (-0.03, 0.78), (0.04, 0.78), (0.10, 0.77), (-0.15, 0.78),
    (-0.12, 0.81), (-0.06, 0.81), (0.01, 0.80), (0.06, 0.81), (0.12, 0.80),
    (-0.09, 0.84), (-0.01, 0.83), (0.05, 0.85), (0.11, 0.84), (-0.14, 0.86),
    (-0.06, 0.88), (0.02, 0.87), (0.08, 0.89), (-0.11, 0.91), (0.13, 0.89),
    (-0.08, 0.55), (0.11, 0.55), (-0.04, 0.60), (0.07, 0.61), (-0.10, 0.64),
    (0.03, 0.64), (-0.07, 0.69), (0.13, 0.67), (-0.02, 0.72), (0.06, 0.73),
    (-0.14, 0.72), (0.09, 0.75), (-0.05, 0.76), (0.01, 0.89), (-0.03, 0.91),
]
ECOG_0_CORE = [
    (-0.11, 0.525), (-0.02, 0.515), (0.07, 0.525), (0.13, 0.535), (-0.14, 0.565), (-0.05, 0.575),
    (0.04, 0.565), (0.11, 0.615), (-0.09, 0.615), (0.00, 0.605), (-0.13, 0.685), (-0.04, 0.655),
    (0.06, 0.685), (0.14, 0.655), (-0.07, 0.715), (0.02, 0.695), (0.11, 0.725), (-0.12, 0.755),
    (-0.02, 0.735), (0.08, 0.745), (-0.07, 0.795), (0.03, 0.765), (0.14, 0.795), (-0.11, 0.825),
    (-0.01, 0.815), (0.09, 0.825), (-0.05, 0.855), (0.07, 0.865), (-0.09, 0.895), (0.04, 0.905),
]
ECOG_1 = [
    (-0.10, 1.37), (-0.07, 1.42), (-0.05, 1.47), (0.09, 1.26), (-0.10, 1.06), (0.04, 1.05), (-0.12, 0.42),
    (-0.04, 0.45), (0.06, 0.47), (-0.09, 1.00), (0.03, 1.02), (0.10, 0.98), (-0.13, 0.86), (0.12, 0.92),
    (-0.02, 0.97), (-0.07, 0.93), (0.00, 0.90),
    (-0.13, 0.50), (-0.05, 0.52), (0.03, 0.51), (0.11, 0.53),
    (-0.10, 0.55), (-0.01, 0.56), (0.07, 0.55), (0.14, 0.57), (-0.14, 0.58),
    (-0.06, 0.60), (0.02, 0.61), (0.10, 0.60), (-0.11, 0.63), (-0.02, 0.64), (0.06, 0.63), (0.13, 0.65),
    (-0.08, 0.67), (0.00, 0.68), (0.08, 0.67), (-0.13, 0.69), (-0.04, 0.71), (0.04, 0.70), (0.12, 0.72),
    (-0.10, 0.74), (-0.01, 0.75), (0.07, 0.74), (0.14, 0.76), (-0.06, 0.78), (0.02, 0.79), (0.10, 0.78),
    (-0.12, 0.80), (-0.03, 0.82), (0.05, 0.83), (0.12, 0.82), (-0.09, 0.85), (0.01, 0.86), (0.09, 0.87),
    (-0.13, 0.88), (-0.05, 0.89), (0.06, 0.91),
    (-0.07, 0.53), (0.09, 0.57), (-0.12, 0.61), (0.04, 0.65), (-0.06, 0.69), (0.11, 0.69), (-0.14, 0.73),
    (0.03, 0.77), (-0.08, 0.81), (0.13, 0.80), (0.00, 0.59), (-0.03, 0.73), (0.08, 0.81), (-0.10, 0.66),
    (-0.12, 0.54), (-0.03, 0.54), (0.06, 0.53), (0.13, 0.55), (-0.08, 0.58), (0.04, 0.58), (-0.13, 0.63),
    (0.00, 0.63), (0.09, 0.64), (-0.05, 0.66), (0.06, 0.66), (0.13, 0.68), (-0.11, 0.70), (-0.02, 0.69),
    (0.09, 0.71), (-0.07, 0.73), (0.02, 0.72), (0.11, 0.74), (-0.13, 0.77), (-0.04, 0.77), (0.06, 0.77),
    (-0.09, 0.80), (0.00, 0.80), (0.11, 0.83), (-0.06, 0.83), (0.03, 0.84), (-0.11, 0.87), (0.07, 0.88),
    (-0.02, 0.88), (0.13, 0.86), (-0.14, 0.64), (0.14, 0.61), (-0.01, 0.59), (0.08, 0.51), (-0.09, 0.51),
]
ECOG_MEDIAN = [0.672, 0.672]
ECOG_BOX = [(0.621, 0.741), (0.628, 0.759)]

# ---------------- panel g : VISC ----------------
VISC_CATS = ["No", "Yes"]
VISC_N = [196, 475]
VISC_NO = [
    (-0.06, 1.57), (-0.11, 1.05), (-0.015, 1.02), (-0.13, 0.43), (-0.12, 0.50), (-0.07, 0.53), (0.10, 0.88),
    (0.04, 0.95), (0.00, 0.92), (0.09, 0.93), (-0.05, 0.97), (0.12, 0.53), (0.03, 0.54), (-0.09, 0.94),
    (-0.14, 0.56), (-0.06, 0.55), (0.02, 0.57), (0.10, 0.55), (0.15, 0.58),
    (-0.11, 0.60), (-0.03, 0.61), (0.05, 0.60), (0.12, 0.62), (-0.15, 0.63),
    (-0.08, 0.65), (0.00, 0.64), (0.08, 0.66), (0.14, 0.65), (-0.12, 0.68),
    (-0.05, 0.69), (0.03, 0.70), (0.11, 0.69), (-0.14, 0.72), (-0.02, 0.73),
    (0.06, 0.72), (0.13, 0.74), (-0.09, 0.75), (0.01, 0.77), (0.09, 0.76),
    (-0.13, 0.79), (-0.04, 0.80), (0.04, 0.81), (0.12, 0.80), (-0.10, 0.83),
    (-0.01, 0.84), (0.07, 0.85), (0.14, 0.86), (-0.07, 0.88), (0.02, 0.89), (-0.12, 0.86), (0.10, 0.90),
    (-0.06, 0.58), (0.07, 0.63), (-0.10, 0.71), (0.05, 0.76), (-0.03, 0.66), (0.13, 0.70), (-0.15, 0.76),
    (0.00, 0.81),
    (-0.13, 0.59), (-0.07, 0.62), (-0.02, 0.58), (0.04, 0.63), (0.09, 0.60), (0.14, 0.62), (-0.11, 0.66),
    (-0.05, 0.66), (0.02, 0.67), (0.07, 0.69), (0.12, 0.66), (-0.14, 0.69), (-0.08, 0.72), (0.00, 0.72),
    (0.05, 0.73), (0.10, 0.73), (-0.12, 0.75), (-0.04, 0.77), (0.03, 0.75), (0.08, 0.79), (0.13, 0.78),
    (-0.07, 0.79), (-0.01, 0.79), (0.06, 0.83), (-0.11, 0.81),
]
VISC_YES = [
    (-0.12, 1.36), (-0.09, 1.42), (-0.07, 1.46), (-0.08, 1.40), (-0.05, 1.29), (0.02, 1.23), (0.08, 1.25),
    (-0.11, 1.03), (0.04, 1.05), (0.10, 0.38), (-0.05, 0.45), (-0.13, 0.49), (-0.02, 0.46), (0.06, 0.47),
    (-0.14, 0.98), (0.12, 0.97), (-0.03, 1.01), (0.09, 1.00),
    (-0.15, 0.51), (-0.08, 0.50), (-0.01, 0.52), (0.06, 0.51), (0.13, 0.50),
    (-0.12, 0.55), (-0.05, 0.56), (0.02, 0.55), (0.09, 0.57), (0.15, 0.56), (-0.16, 0.57),
    (-0.10, 0.60), (-0.03, 0.59), (0.04, 0.61), (0.11, 0.60), (-0.14, 0.62), (0.16, 0.62),
    (-0.07, 0.64), (0.00, 0.65), (0.07, 0.64), (0.14, 0.66), (-0.12, 0.66),
    (-0.15, 0.69), (-0.09, 0.70), (-0.02, 0.69), (0.05, 0.71), (0.12, 0.70),
    (-0.11, 0.74), (-0.04, 0.75), (0.03, 0.74), (0.10, 0.76), (0.16, 0.73), (-0.16, 0.76),
    (-0.13, 0.79), (-0.06, 0.80), (0.01, 0.79), (0.08, 0.81), (0.14, 0.80),
    (-0.10, 0.84), (-0.03, 0.85), (0.04, 0.84), (0.11, 0.86), (-0.15, 0.85),
    (-0.12, 0.89), (-0.05, 0.90), (0.02, 0.89), (0.09, 0.91), (0.15, 0.88),
    (-0.08, 0.94), (0.00, 0.95), (0.07, 0.93), (0.13, 0.95),
    (-0.13, 0.53), (-0.04, 0.53), (0.03, 0.48), (0.10, 0.54), (0.15, 0.53),
    (-0.08, 0.57), (0.06, 0.58), (-0.12, 0.60), (0.01, 0.62), (0.13, 0.63),
    (-0.05, 0.67), (0.10, 0.67), (-0.14, 0.72), (-0.01, 0.72), (0.08, 0.73),
    (-0.09, 0.77), (0.05, 0.77), (0.13, 0.77), (-0.03, 0.82), (0.11, 0.82),
    (-0.11, 0.81), (0.06, 0.87), (-0.07, 0.87), (0.00, 0.86), (-0.15, 0.66), (0.16, 0.68),
    (-0.14, 0.52), (-0.06, 0.51), (0.02, 0.50), (0.09, 0.52), (0.16, 0.51),
    (-0.11, 0.57), (-0.03, 0.57), (0.05, 0.56), (0.12, 0.58), (-0.16, 0.59),
    (-0.08, 0.61), (0.00, 0.60), (0.08, 0.62), (0.15, 0.60), (-0.13, 0.64),
    (-0.04, 0.63), (0.04, 0.65), (0.11, 0.64), (-0.10, 0.67), (-0.01, 0.67),
    (0.07, 0.68), (0.14, 0.69), (-0.13, 0.70), (-0.05, 0.71), (0.03, 0.70),
    (0.10, 0.71), (-0.16, 0.73), (-0.08, 0.73), (0.00, 0.74), (0.08, 0.75),
    (0.14, 0.74), (-0.12, 0.77), (-0.03, 0.78), (0.05, 0.79), (0.12, 0.79),
    (-0.09, 0.80), (-0.01, 0.81), (0.06, 0.82), (0.15, 0.82), (-0.14, 0.83),
    (-0.06, 0.84), (0.02, 0.83), (0.09, 0.85), (-0.11, 0.87), (-0.02, 0.88),
    (0.05, 0.87), (0.13, 0.87), (-0.08, 0.90), (0.03, 0.92), (0.11, 0.93),
    (-0.12, 0.92), (-0.04, 0.93), (0.07, 0.90), (-0.16, 0.63), (0.16, 0.77),
]
VISC_YES_CORE = [
    (-0.11, 0.525), (-0.02, 0.535), (0.07, 0.525), (0.14, 0.545), (-0.14, 0.585), (-0.05, 0.595),
    (0.04, 0.585), (0.12, 0.615), (-0.09, 0.635), (0.01, 0.645), (0.09, 0.655), (-0.13, 0.675),
    (-0.03, 0.685), (0.06, 0.695), (0.15, 0.715), (-0.10, 0.725), (0.01, 0.725), (0.11, 0.745),
    (-0.06, 0.765), (0.03, 0.765), (0.13, 0.755), (-0.15, 0.795), (-0.04, 0.805), (0.07, 0.795),
    (-0.10, 0.825), (0.00, 0.835), (0.10, 0.835), (-0.06, 0.865), (0.04, 0.855), (-0.01, 0.905),
]
VISC_MEDIAN = [0.677, 0.677]
VISC_BOX = [(0.619, 0.735), (0.619, 0.735)]

# ---------------- panel h : PST (jitter offset, Vc) ----------------
PST_CATS = ["No", "Yes"]
PST_N = [103, 568]
PST_NO = [
    (-0.12, 3.53), (-0.066, 3.55), (0.035, 3.49), (0.096, 3.64), (-0.034, 3.45), (-0.031, 3.36),
    (-0.042, 3.28), (-0.066, 3.22), (-0.125, 3.33), (-0.10, 3.31), (0.06, 3.28), (0.08, 3.20), (0.10, 3.18),
    (-0.13, 3.15), (-0.11, 3.12), (-0.09, 3.17), (-0.07, 3.10), (-0.05, 3.05), (-0.02, 3.14), (0.01, 3.20),
    (0.03, 3.08), (0.05, 3.12), (0.07, 3.02), (0.09, 3.10), (0.11, 3.05), (-0.12, 3.05), (-0.10, 3.00),
    (-0.08, 2.95), (-0.06, 3.00), (-0.03, 2.92), (0.00, 2.98), (0.02, 2.95), (0.04, 3.00), (0.06, 2.92),
    (0.08, 2.96), (0.10, 2.88), (-0.13, 2.90), (-0.11, 2.85), (-0.09, 2.88), (-0.07, 2.80), (-0.04, 2.86),
    (-0.01, 2.82), (0.02, 2.85), (0.05, 2.80), (0.07, 2.86), (0.09, 2.78), (0.11, 2.78), (-0.12, 2.70),
    (-0.095, 2.62), (-0.026, 2.67), (0.056, 2.30), (0.07, 2.77), (0.03, 2.77), (0.00, 2.77), (-0.06, 2.78),
    (-0.13, 3.25), (-0.10, 3.40), (-0.08, 3.05), (-0.04, 3.18), (-0.02, 3.40), (0.00, 3.30), (0.02, 3.25),
    (0.04, 3.35), (0.06, 3.15), (0.09, 3.28), (0.11, 3.22), (-0.11, 2.95), (-0.05, 2.90), (0.01, 3.05),
    (0.08, 3.05), (0.10, 2.95), (-0.135, 3.05), (-0.02, 2.98), (0.04, 2.90), (-0.09, 3.20), (0.06, 3.38),
    (-0.07, 2.72), (0.03, 3.12), (-0.11, 3.30), (0.08, 2.82),
    (-0.11, 3.08), (-0.06, 3.12), (-0.01, 3.10), (0.04, 3.06), (0.09, 3.14), (-0.12, 2.98), (-0.04, 3.02),
    (0.02, 3.00), (0.07, 2.98), (-0.09, 2.82), (0.05, 2.86), (-0.07, 3.26), (0.03, 3.22), (0.10, 3.32),
    (-0.03, 3.34),
]
PST_YES = [
    (-0.058, 4.05), (0.021, 3.91), (0.10, 3.83), (-0.08, 3.80), (0.107, 3.71), (0.07, 3.66), (-0.10, 2.63),
    (-0.015, 2.58), (-0.01, 2.62), (0.034, 2.65), (0.06, 2.60), (0.10, 2.52), (-0.034, 2.42), (-0.12, 2.75),
    (0.12, 2.68), (-0.12, 3.63), (0.12, 3.49), (-0.06, 2.68),
    (-0.11, 2.70), (-0.03, 2.71), (0.05, 2.70), (0.11, 2.72), (-0.08, 2.75), (0.00, 2.74), (0.08, 2.76),
    (-0.10, 2.80), (-0.02, 2.81), (0.06, 2.79), (0.12, 2.80), (0.03, 2.82),
    (-0.12, 2.85), (-0.05, 2.86), (0.03, 2.84), (0.10, 2.85), (-0.08, 2.84),
    (-0.09, 2.90), (-0.01, 2.91), (0.07, 2.89), (0.12, 2.91), (-0.04, 2.90), (0.02, 2.89),
    (-0.11, 2.95), (-0.06, 2.96), (0.01, 2.94), (0.09, 2.95), (0.05, 2.96), (-0.02, 2.95),
    (-0.12, 3.00), (-0.04, 3.01), (0.04, 2.99), (0.11, 3.00), (-0.08, 3.00), (0.07, 3.01),
    (-0.10, 3.05), (-0.01, 3.06), (0.06, 3.04), (0.12, 3.05), (-0.06, 3.05), (0.02, 3.04),
    (-0.11, 3.10), (-0.03, 3.11), (0.05, 3.09), (0.10, 3.10), (-0.07, 3.09), (0.01, 3.10),
    (-0.12, 3.15), (-0.05, 3.16), (0.03, 3.14), (0.09, 3.15), (-0.09, 3.15), (0.07, 3.16),
    (-0.10, 3.20), (-0.02, 3.21), (0.06, 3.19), (0.12, 3.20), (-0.06, 3.20), (0.03, 3.21),
    (-0.11, 3.25), (-0.04, 3.26), (0.04, 3.24), (0.10, 3.25), (-0.08, 3.24), (0.00, 3.25),
    (-0.12, 3.30), (-0.03, 3.31), (0.05, 3.29), (0.11, 3.30), (-0.07, 3.30), (0.02, 3.30),
    (-0.10, 3.35), (-0.01, 3.36), (0.07, 3.34), (0.12, 3.35), (-0.05, 3.35),
    (-0.11, 3.40), (-0.04, 3.41), (0.03, 3.39), (0.09, 3.40), (0.06, 3.41),
    (-0.12, 3.45), (-0.06, 3.46), (0.01, 3.44), (0.08, 3.45), (0.11, 3.46),
    (-0.10, 3.50), (-0.02, 3.51), (0.05, 3.49), (0.12, 3.50),
    (-0.11, 3.55), (-0.04, 3.56), (0.03, 3.54), (0.10, 3.55),
    (-0.09, 3.60), (-0.01, 3.61), (0.07, 3.59), (-0.07, 3.65), (0.02, 3.64), (0.10, 3.63),
    (-0.06, 2.72), (0.03, 2.73), (0.10, 2.74), (-0.10, 2.78), (-0.03, 2.77), (0.05, 2.78), (0.11, 2.77),
    (-0.07, 2.83), (0.00, 2.82), (0.09, 2.83), (-0.11, 2.88), (-0.02, 2.87), (0.06, 2.88), (0.12, 2.87),
    (-0.07, 2.93), (0.04, 2.92), (0.10, 2.93), (-0.12, 2.98), (-0.04, 2.97), (0.03, 2.98), (0.12, 2.97),
    (-0.06, 3.03), (0.00, 3.02), (0.09, 3.03), (-0.12, 3.08), (-0.04, 3.07), (0.04, 3.08), (0.09, 3.07),
    (-0.09, 3.13), (-0.01, 3.12), (0.08, 3.13), (0.12, 3.12), (-0.12, 3.18), (-0.02, 3.17), (0.05, 3.18),
    (0.11, 3.17), (-0.08, 3.23), (0.00, 3.22), (0.09, 3.23), (-0.12, 3.28), (-0.02, 3.27), (0.07, 3.28),
    (0.12, 3.27), (-0.09, 3.33), (0.00, 3.32), (0.09, 3.33), (-0.12, 3.38), (-0.03, 3.37), (0.04, 3.38),
    (0.11, 3.37), (-0.08, 3.43), (-0.01, 3.42), (0.10, 3.43), (-0.12, 3.48), (-0.05, 3.47), (0.03, 3.48),
    (0.09, 3.47), (-0.07, 3.53), (0.01, 3.52), (0.07, 3.53), (-0.12, 3.58), (-0.02, 3.57), (0.05, 3.58),
    (0.11, 3.57), (-0.05, 3.62), (0.05, 3.62),
    (-0.09, 2.71), (0.01, 2.71), (0.08, 2.71), (-0.12, 2.76), (-0.05, 2.76), (0.04, 2.76), (0.11, 2.76),
    (-0.08, 2.81), (0.01, 2.81), (0.09, 2.81), (-0.10, 2.86), (-0.03, 2.86), (0.04, 2.86), (0.11, 2.86),
    (-0.12, 2.91), (-0.06, 2.91), (0.05, 2.91), (0.11, 2.91), (-0.09, 2.96), (-0.01, 2.96), (0.07, 2.96),
    (-0.10, 3.01), (-0.02, 3.01), (0.05, 3.01), (0.12, 3.01), (-0.12, 3.06), (-0.04, 3.06), (0.03, 3.06),
    (0.10, 3.06), (-0.09, 3.11), (0.00, 3.11), (0.07, 3.11), (0.12, 3.11), (-0.11, 3.16), (-0.03, 3.16),
    (0.05, 3.16), (0.10, 3.16), (-0.12, 3.21), (-0.04, 3.21), (0.01, 3.21), (0.09, 3.21), (-0.10, 3.26),
    (-0.02, 3.26), (0.06, 3.26), (0.12, 3.26), (-0.11, 3.31), (-0.05, 3.31), (0.04, 3.31), (0.09, 3.31),
    (-0.12, 3.36), (-0.03, 3.36), (0.03, 3.36), (0.10, 3.36), (-0.09, 3.41), (-0.01, 3.41), (0.07, 3.41),
    (0.12, 3.41), (-0.10, 3.46), (-0.03, 3.46), (0.04, 3.46), (0.10, 3.46), (-0.12, 3.51), (-0.05, 3.51),
    (0.02, 3.51), (0.09, 3.51), (-0.08, 3.56), (-0.01, 3.56), (0.06, 3.56), (0.12, 3.56), (-0.11, 3.61),
    (-0.04, 3.61), (0.03, 3.61), (0.10, 3.61), (-0.10, 3.66), (-0.01, 3.66), (0.05, 3.66),
]
PST_YES_CORE = [
    (-0.115, 2.73), (-0.035, 2.74), (0.045, 2.73), (0.115, 2.79), (-0.075, 2.79), (0.015, 2.79),
    (-0.115, 2.83), (-0.045, 2.83), (0.055, 2.83), (-0.085, 2.88), (0.025, 2.88), (0.095, 2.89),
    (-0.115, 2.93), (-0.025, 2.93), (0.065, 2.94), (-0.055, 2.98), (0.055, 2.98), (-0.095, 3.03),
    (0.025, 3.03), (0.115, 3.03), (-0.065, 3.08), (0.065, 3.08), (-0.115, 3.13), (-0.035, 3.13),
    (0.045, 3.13), (-0.075, 3.18), (0.015, 3.18), (0.095, 3.18), (-0.115, 3.23), (-0.025, 3.23),
    (0.055, 3.23), (-0.055, 3.28), (0.035, 3.28), (0.115, 3.28), (-0.095, 3.33), (0.025, 3.33),
    (-0.045, 3.38), (0.065, 3.38), (-0.115, 3.43), (0.015, 3.43), (0.095, 3.43), (-0.075, 3.48),
    (0.045, 3.48), (-0.115, 3.53), (0.025, 3.53), (0.115, 3.53), (-0.055, 3.58), (0.085, 3.58),
    (-0.025, 3.63), (0.065, 3.63),
]
PST_MEDIAN = [3.135, 3.135]
PST_BOX = [(2.96, 3.15), (3.05, 3.23)]


# ================= helpers =================
def txt(s, x, y, size, **kw):
    return alt.Chart(pd.DataFrame({"t": [s]})).mark_text(
        font=FONT, fontSize=size, color="black", **kw
    ).encode(x=alt.value(x), y=alt.value(y), text="t:N")


def spacer(y):
    return alt.Chart(pd.DataFrame({"t": [0]})).mark_rule(color="white", strokeWidth=1).encode(
        x=alt.value(2), x2=alt.value(10), y=alt.value(y), y2=alt.value(y))


def frame(letter, col, H, letter_y, ylines, spacers):
    lx = -89 if col == 0 else -110
    t1, t2 = (-70, -49) if col == 0 else (-88, -69)
    out = [
        txt(letter, lx, letter_y, 17, align="left", baseline="alphabetic", fontWeight="bold"),
        txt(ylines[0], t1, H / 2 + 2, 18, angle=270, align="center", baseline="middle"),
        txt(ylines[1], t2, H / 2 + 2, 18, angle=270, align="center", baseline="middle"),
    ]
    out += [spacer(s) for s in spacers]
    return out


def x_axis(values, title, title_y, size=15, fmt=None, expr=None, pad=2):
    kw = dict(values=values, title=title, titleY=title_y, titleBaseline="top", titleFont=FONT,
              titleFontSize=18, titleFontWeight="normal", titleColor="black", domain=False, grid=False,
              ticks=True, tickSize=7, tickColor=TICK, tickWidth=1, labelFont=FONT, labelFontSize=size,
              labelColor="black", labelPadding=pad, labelFlush=False, labelOverlap=False)
    if fmt:
        kw["format"] = fmt
    if expr:
        kw["labelExpr"] = expr
    return alt.Axis(**kw)


def y_axis(values, size=15, expr=None, pad=3):
    kw = dict(values=values, title=None, domain=False, grid=False, ticks=True, tickSize=7,
              tickColor=TICK, tickWidth=1, labelFont=FONT, labelFontSize=size, labelColor="black",
              labelPadding=pad, labelFlush=False, labelOverlap=False, format=".1f")
    if expr:
        kw["labelExpr"] = expr
    return alt.Axis(**kw)


def scatter_panel(i, pts, fx, fy, xdom, xticks, W, H, size, col, letter_y, title_y, spacers,
                  xfmt="d", sw=1.1):
    xs = alt.Scale(domain=xdom, nice=False, zero=False)
    ys = alt.Scale(domain=CL_DOMAIN, nice=False, zero=False)
    xa = x_axis(xticks, X_TITLES[i], title_y, fmt=xfmt)
    ya = y_axis(CL_TICKS)
    pts_l = alt.Chart(pd.DataFrame(pts, columns=["x", "y"])).mark_point(
        shape="circle", filled=False, size=size, strokeWidth=sw, color="black", opacity=1
    ).encode(x=alt.X("x:Q", scale=xs, axis=xa), y=alt.Y("y:Q", scale=ys, axis=ya))
    fit = alt.Chart(pd.DataFrame({"x": fx, "y": fy})).mark_line(
        color=FIT_BLUE, strokeWidth=1.6, interpolate="monotone"
    ).encode(x=alt.X("x:Q", scale=xs, axis=xa), y=alt.Y("y:Q", scale=ys, axis=ya))
    layers = [pts_l, fit] + frame(PANEL_LETTERS[i], col, H, letter_y, Y_TITLE_CL, spacers)
    return alt.layer(*layers).properties(
        width=W, height=H, view=alt.ViewBackground(stroke=RED_FRAME, strokeWidth=2))


def n_label(x, y, count, size, xs, ys, xa, ya):
    rest = "=" + str(count)
    off = (0.584 + 0.556 * len(str(count)) - 0.556) / 2 * size
    df = pd.DataFrame({"x": [x], "y": [y], "a": ["n"], "b": [rest]})
    base = alt.Chart(df).encode(x=alt.X("x:Q", scale=xs, axis=xa), y=alt.Y("y:Q", scale=ys, axis=ya))
    a = base.mark_text(font=FONT, fontSize=size, fontStyle="italic", align="right", baseline="middle",
                       dx=-off, color="black").encode(text="a:N")
    b = base.mark_text(font=FONT, fontSize=size, align="left", baseline="middle",
                       dx=-off, color="black").encode(text="b:N")
    return [a, b]


def jitter_panel(i, groups, cats, counts, medians, boxes, cfg):
    W, H = cfg["W"], cfg["H"]
    xs = alt.Scale(domain=cfg["xdom"], nice=False, zero=False)
    ys = alt.Scale(domain=cfg["ydom"], nice=False, zero=False)
    expr = "datum.value == 0 ? '%s' : '%s'" % (cats[0], cats[1])
    xa = x_axis([0, 1], X_TITLES[i], cfg["title_y"], size=cfg["lsize"], expr=expr, pad=cfg["xpad"])
    ya = y_axis(cfg["yticks"], size=cfg["lsize"], expr=cfg.get("yexpr"), pad=cfg["ypad"])
    rows = [(k + j, y) for k, g in enumerate(groups) for j, y in g]
    pts_l = alt.Chart(pd.DataFrame(rows, columns=["x", "y"])).mark_point(
        shape="circle", filled=False, size=cfg["size"], strokeWidth=cfg["sw"], color="black", opacity=1
    ).encode(x=alt.X("x:Q", scale=xs, axis=xa), y=alt.Y("y:Q", scale=ys, axis=ya))
    bdf = pd.DataFrame({
        "x": [k - cfg["box_hw"] for k in range(2)], "x1": [k + cfg["box_hw"] for k in range(2)],
        "y": [b[0] for b in boxes], "y1": [b[1] for b in boxes],
    })
    box_l = alt.Chart(bdf).mark_rect(color=BOX_BLUE, opacity=0.95).encode(
        x=alt.X("x:Q", scale=xs, axis=xa), x2="x1:Q",
        y=alt.Y("y:Q", scale=ys, axis=ya), y2="y1:Q")
    mdf = pd.DataFrame({
        "x": [k - cfg["med_hw"] for k in range(2)], "x1": [k + cfg["med_hw"] for k in range(2)],
        "y": medians,
    })
    med_l = alt.Chart(mdf).mark_rule(color=MED_RED, strokeWidth=cfg["med_w"]).encode(
        x=alt.X("x:Q", scale=xs, axis=xa), x2="x1:Q", y=alt.Y("y:Q", scale=ys, axis=ya))
    layers = [pts_l, box_l, med_l]
    for k in range(2):
        layers += n_label(cfg["nx"][k], cfg["ny"], counts[k], cfg["nsize"], xs, ys, xa, ya)
    layers += frame(PANEL_LETTERS[i], cfg["col"], H, cfg["letter_y"], cfg["ylines"], cfg["spacers"])
    return alt.layer(*layers).properties(
        width=W, height=H, view=alt.ViewBackground(stroke=BLACK_FRAME, strokeWidth=1.5))


# ================= panels =================
pa = scatter_panel(0, ALBU_PTS + ALBU_CORE, ALBU_FIT_X, ALBU_FIT_Y, [18.4, 61.6], [20, 30, 40, 50, 60],
                   186, 211, 55, 0, 4, 30, [281.4])
pb = scatter_panel(1, TMBD_PTS + TMBD_CORE, TMBD_FIT_X, TMBD_FIT_Y, [-2.2, 56.6], [0, 10, 20, 30, 40, 50],
                   186, 211, 55, 1, 4, 32, [])
pc = scatter_panel(2, ECD_PTS, ECD_FIT_X, ECD_FIT_Y, [-163, 4163], [0, 1000, 2000, 3000, 4000],
                   186, 210, 55, 0, -2, 30, [-16, 278.6], xfmt=",.0f")
pd_ = scatter_panel(3, TBL_PTS, TBL_FIT_X, TBL_FIT_Y, [-5.2, 135.2], [0, 20, 40, 60, 80, 100, 120],
                    308, 210, 24, 1, 0, 30, [], sw=1.0)

cat_cfg = dict(W=186, H=210, xdom=[-0.33, 1.33], ydom=CL_DOMAIN, yticks=CL_TICKS, size=55, lsize=15,
               xpad=3, ypad=3, box_hw=0.055, med_hw=0.145, med_w=4, nsize=13.5, ny=1.92,
               ylines=Y_TITLE_CL, sw=1.2)

pe = jitter_panel(4, [DME_NO, DME_YES + DME_YES_CORE], DME_CATS, DME_N, DME_MEDIAN, DME_BOX,
                  dict(cat_cfg, nx=[-0.03, 1.02], col=0, letter_y=8, title_y=35, spacers=[-16, 269.6]))
pf = jitter_panel(5, [ECOG_0 + ECOG_0_CORE, ECOG_1], ECOG_CATS, ECOG_N, ECOG_MEDIAN, ECOG_BOX,
                  dict(cat_cfg, nx=[-0.035, 1.0], col=1, letter_y=8, title_y=35, spacers=[],
                       med_hw=0.125))
pg = jitter_panel(6, [VISC_NO, VISC_YES + VISC_YES_CORE], VISC_CATS, VISC_N, VISC_MEDIAN, VISC_BOX,
                  dict(cat_cfg, H=207, nx=[-0.03, 0.99], col=0, letter_y=9, title_y=28, spacers=[-16]))
ph = jitter_panel(7, [PST_NO, PST_YES + PST_YES_CORE], PST_CATS, PST_N, PST_MEDIAN, PST_BOX,
                  dict(W=308, H=207, xdom=[-0.25, 1.25], ydom=VC_DOMAIN, yticks=VC_TICKS,
                       yexpr="datum.value % 1 == 0 ? format(datum.value, '.1f') : ''",
                       size=20, lsize=18, xpad=3, ypad=2, box_hw=0.029, med_hw=0.125, med_w=2,
                       nsize=18, ny=4.885, nx=[0.024, 1.034], ylines=Y_TITLE_VC, col=1,
                       letter_y=7, title_y=30, spacers=[], sw=1.1))

row1 = alt.hconcat(pa, pb, spacing=174, bounds="flush")
row2 = alt.hconcat(pc, pd_, spacing=174, bounds="flush")
row3 = alt.hconcat(pe, pf, spacing=173, bounds="flush")
row4 = alt.hconcat(pg, ph, spacing=172, bounds="flush")

chart = alt.vconcat(row1, row2, row3, row4, spacing=0).properties(
    padding={"left": 0, "top": 0, "right": 0, "bottom": 0}
).configure(background="white")

chart.save("out.html", embed_options={"renderer": "svg", "actions": False})
